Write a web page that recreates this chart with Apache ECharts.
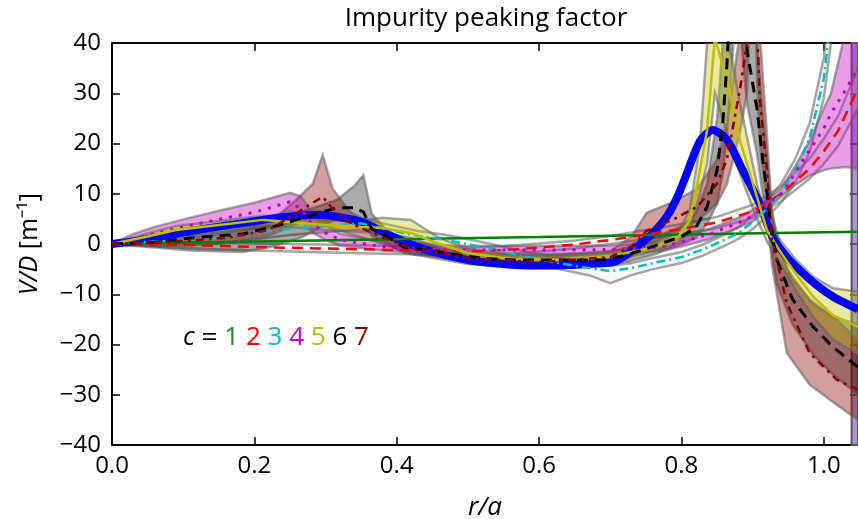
<!DOCTYPE html>
<html>
<head>
<meta charset="utf-8">
<script src="https://cdn.jsdelivr.net/npm/echarts@6/dist/echarts.min.js"></script>
<style>
html,body{margin:0;padding:0;background:#fff;}
#main{width:858px;height:519px;}
</style>
</head>
<body>
<div id="main"></div>
<script>
// ---------- data ----------
const xTicks = [0.0, 0.2, 0.4, 0.6, 0.8, 1.0];
const yTicks = [-40, -30, -20, -10, 0, 10, 20, 30, 40];
const legendDigits = ['1','2','3','4','5','6','7'];

// c = 1 (green)
const x1 = [0, 0.2, 0.4, 0.6, 0.8, 1.0, 1.048];
const y1 = [0, 0.5, 0.95, 1.4, 1.9, 2.35, 2.45];

// c = 2 (red dashed)
const x2 = [0,0.1,0.2,0.3,0.4,0.5,0.55,0.6,0.65,0.7,0.75,0.8,0.85,0.9,0.94,0.98,1.0,1.02,1.048];
const y2 = [0,-0.2,-0.6,-0.9,-1.2,-1.5,-1.2,-0.7,-0.1,0.8,1.9,3.0,4.3,6.5,10,15,18.5,22.5,31];
const lo2 = [0,-0.8,-1.3,-1.7,-2.0,-2.3,-2.0,-1.5,-0.9,0,1.0,2.0,3.2,5.2,8.5,13,16,19.5,27];
const hi2 = [0,0.4,0.1,-0.1,-0.4,-0.7,-0.4,0.1,0.7,1.6,2.8,4.0,5.4,7.8,11.5,17,21,25.5,35];

// c = 3 (cyan dash-dot)
const x3 = [0,0.05,0.1,0.15,0.2,0.25,0.3,0.35,0.39,0.43,0.47,0.52,0.57,0.62,0.67,0.7,0.73,0.76,0.8,0.83,0.86,0.88,0.9,0.92,0.94,0.96,0.98,1.0,1.01,1.02];
const y3 = [0,0.4,0.8,1.3,2.2,3.1,3.6,4.1,2.8,1.6,0.8,-0.6,-2.2,-3.6,-4.8,-5.4,-4.8,-3.8,-2.6,-1.1,0.8,2.2,4.4,7,10,14.5,21,33,45,65];
const lo3 = [0,-0.4,-0.3,0,0.9,1.8,2.4,2.9,1.6,0.4,-0.4,-1.8,-3.4,-4.8,-6.2,-7.8,-6.2,-5.0,-3.8,-2.3,-0.4,1.0,3.0,5.4,8.2,12.3,18.3,29,40,58];
const hi3 = [0,1.4,1.8,2.3,3.2,4.1,4.6,5.1,3.8,2.6,1.8,0.4,-1.2,-2.6,-3.8,-4.4,-3.8,-2.8,-1.6,-0.1,1.8,3.3,5.7,8.6,12,17,24,37,52,75];

// c = 4 (magenta dotted)
const x4 = [0,0.03,0.06,0.1,0.15,0.2,0.25,0.265,0.28,0.3,0.32,0.35,0.38,0.42,0.5,0.6,0.7,0.77,0.8,0.84,0.88,0.9,0.94,0.96,0.98,1.0,1.01,1.03,1.048];
const y4 = [0,1.1,2.1,3.4,4.9,6.3,8.4,7.0,4.2,2.2,0.9,0.1,-0.5,-0.9,-1.2,-1.2,-1.1,-0.6,0.4,2.0,4.2,5.6,10,14.2,18.7,23,26,30.5,35];
const lo4 = [0,0.2,1.0,2.0,3.3,4.6,6.6,5.0,2.4,0.8,-0.3,-0.8,-1.3,-1.7,-2.0,-2.0,-1.9,-1.4,-0.5,1.0,3.3,4.5,9.4,11.8,13.6,14.7,15,15.3,15];
const hi4 = [0,2.0,3.4,4.9,6.6,8.2,10.2,9.5,6.5,3.7,2.1,1.2,0.4,0,-0.4,-0.4,-0.3,0.3,1.3,3.0,5.2,6.8,11,15.5,20.5,27,30,42,55];

// c = 5 (yellow solid)
const x5 = [0,0.05,0.09,0.138,0.212,0.25,0.3,0.35,0.38,0.42,0.46,0.5,0.56,0.63,0.7,0.75,0.78,0.797,0.812,0.826,0.836,0.847,0.864,0.882,0.906,0.92,0.94,0.96,0.985,1.013,1.048];
const y5 = [0,1.5,2.8,3.6,4.8,4.4,3.8,3.4,3.2,2.2,0,-1.8,-3.0,-3.2,-2.4,-1.0,0.3,1.6,4.8,14.7,22.7,41,32.6,20.7,9.4,2.8,-1.8,-5.8,-10.5,-14.2,-16.5];
const lo5 = [0,0.9,2.0,2.8,3.8,3.4,2.8,2.4,2.2,1.2,-0.8,-2.6,-3.8,-4.0,-3.2,-1.8,-0.6,0.4,3.0,10,16,30,22,14,5,0.5,-4,-9,-14.5,-19,-22];
const hi5 = [0,2.1,3.6,4.4,5.6,5.4,4.8,4.6,5.2,4.8,1.2,-1.0,-2.2,-2.4,-1.6,-0.2,1.2,2.6,7,20,40,55,42,28,12,4.5,0.5,-3,-6.5,-8.8,-9.5];

// c = 6 (black dashed)
const x6 = [0,0.067,0.11,0.184,0.226,0.268,0.316,0.34,0.353,0.365,0.383,0.41,0.47,0.517,0.563,0.64,0.686,0.723,0.76,0.8,0.82,0.836,0.85,0.858,0.864,0.878,0.892,0.906,0.914,0.921,0.926,0.934,0.956,0.985,1.013,1.048];
const y6 = [0,0.4,1.2,2.0,3.4,5.2,7.2,7.2,6.4,3.0,1.8,-0.6,-1.8,-2.8,-3.2,-3.2,-3.2,-2.2,-0.5,1.5,3.2,7.4,14.7,24,36,80,38.6,27,17,9.4,2.8,-3.2,-11,-16.5,-20.5,-24.5];
const lo6 = [0,-0.8,-1.3,-1.6,-0.5,1.4,5.0,5.5,4.5,1.6,0.4,-1.8,-2.8,-3.8,-4.2,-4.2,-4.4,-3.6,-2.2,0,1.2,4,8,14,22,50,28,18,10,4,-1,-8,-16,-22,-26,-30];
const hi6 = [0,1.2,2.2,3.2,4.6,6.5,8.8,11.5,13.7,6.0,3.2,0.6,-0.8,-1.8,-2.2,-2.2,-2.0,-0.8,1.2,3.5,6,12,25,40,60,90,60,40,26,16,8,0,-7,-12,-14.5,-16];

// c = 7 (dark red dash-dot)
const x7 = [0,0.08,0.16,0.22,0.26,0.282,0.296,0.31,0.334,0.372,0.42,0.5,0.6,0.7,0.73,0.751,0.79,0.822,0.85,0.864,0.882,0.892,0.9,0.907,0.91,0.92,0.927,0.948,0.98,1.018,1.048];
const y7 = [0,0.4,1.2,2.8,6.2,8.2,9.4,7.0,4.2,1.8,-0.8,-2.8,-3.6,-2.6,-0.5,2.6,5,7.4,12,17,30.6,40,80,40,29,14.7,1,-11.7,-21.7,-27,-29];
const lo7 = [0,-0.2,0.2,1.6,4,5.5,4,3.2,2,0.4,-2,-4,-4.8,-4,-2.5,-0.5,2.5,4.5,8,12,22,30,60,30,20,8,-4,-21.7,-28,-32,-35];
const hi7 = [0,1.0,2.2,4.0,9,12,17.7,11,6.5,3.2,0.4,-1.6,-2.4,-1.4,1.5,6.2,8.5,11,17,24,42,60,90,60,42,22,6,-5,-11,-15,-19];

// thick blue line
const xB = [0,0.044,0.09,0.138,0.19,0.232,0.288,0.35,0.395,0.442,0.5,0.55,0.59,0.64,0.704,0.72,0.742,0.76,0.78,0.795,0.808,0.826,0.844,0.864,0.886,0.91,0.928,0.948,0.966,0.99,1.013,1.041,1.048];
const yB = [0,0.8,2.0,3.2,4.3,5.2,5.8,4.4,1.4,-1.2,-3.2,-4.0,-4.3,-4.2,-3.6,-2.4,0.0,2.2,5.6,9.6,14.2,20.5,22.7,20.7,14.7,8,1.4,-2.6,-5.2,-8.2,-10.5,-12.5,-13];

// shaded region at the edge
const edgeSpan = [1.039, 1.06];

// ---------- build ----------
const FONT = 'Open Sans';
const pairs = (xs, ys) => xs.map((x, i) => [x, ys[i]]);
const EDGE = 'rgba(95,95,95,0.55)';

function band(xs, lo, hi, fill) {
  return {
    type: 'custom', silent: true, clip: true, z: 2,
    data: xs.map((x, i) => [x, lo[i], hi[i]]),
    encode: { x: 0, y: [1, 2] },
    renderItem: function (params, api) {
      if (params.dataIndex !== 0) return null;
      const up = [], dn = [];
      for (let i = 0; i < xs.length; i++) {
        up.push(api.coord([xs[i], hi[i]]));
        dn.push(api.coord([xs[i], lo[i]]));
      }
      const poly = up.concat(dn.slice().reverse());
      return {
        type: 'group',
        children: [
          { type: 'polygon', shape: { points: poly }, style: { fill: fill, stroke: null } },
          { type: 'polyline', shape: { points: up }, style: { fill: null, stroke: EDGE, lineWidth: 2.5 } },
          { type: 'polyline', shape: { points: dn }, style: { fill: null, stroke: EDGE, lineWidth: 2.5 } }
        ]
      };
    }
  };
}
function line(xs, ys, color, width, type, z, smooth) {
  return { type: 'line', data: pairs(xs, ys), showSymbol: false, silent: true, z: z,
    smooth: smooth || 0,
    lineStyle: { color: color, width: width, type: type, cap: 'butt' } };
}

const series = [
  band(x2, lo2, hi2, 'rgba(225,225,225,0.25)'),
  band(x3, lo3, hi3, 'rgba(225,225,225,0.25)'),
  band(x6, lo6, hi6, 'rgba(0,0,0,0.33)'),
  band(x7, lo7, hi7, 'rgba(139,0,0,0.38)'),
  band(x4, lo4, hi4, 'rgba(191,0,191,0.38)'),
  band(x5, lo5, hi5, 'rgba(191,191,0,0.35)'),
  line(xB, yB, '#0000ff', 8, 'solid', 5, 0.25),
  line(x1, y1, '#007f00', 2.5, 'solid', 6),
  line(x2, y2, '#ff0000', 2.5, [11, 7], 6),
  line(x3, y3, '#00bfbf', 2.5, [9, 4, 2, 4], 6),
  line(x4, y4, '#bf00bf', 3, [3, 7], 6),
  line(x5, y5, '#bfbf00', 2.5, 'solid', 6),
  line(x6, y6, '#000000', 3, [11, 7], 6),
  line(x7, y7, '#8b0000', 2.5, [8, 5, 3, 5], 6),
  { type: 'line', data: [], silent: true, z: 8,
    markArea: { silent: true,
      itemStyle: { color: 'rgba(120,70,200,0.6)', borderColor: '#555', borderWidth: 2 },
      data: [[{ xAxis: edgeSpan[0] }, { xAxis: edgeSpan[1] }]] } }
];

const fmtX = v => xTicks.some(t => Math.abs(t - v) < 1e-9) ? v.toFixed(1) : '';
const fmtY = v => yTicks.indexOf(v) >= 0 ? String(v).replace('-', '\u2212') : '';

const axisLine = { show: true, onZero: false, lineStyle: { color: '#000', width: 2 } };
const tick = { show: true, inside: true, length: 8, lineStyle: { color: '#000', width: 1.5 } };

const option = {
  animation: false,
  backgroundColor: '#fff',
  grid: { left: 112, right: 0, top: 43, bottom: 74, containLabel: false, outerBoundsMode: 'none' },
  xAxis: [
    { type: 'value', min: 0, max: 1.048, interval: 0.2, position: 'bottom',
      axisLine: axisLine, axisTick: tick, splitLine: { show: false },
      axisLabel: { formatter: fmtX, fontFamily: FONT, fontSize: 24, color: '#000', margin: 9, showMaxLabel: false },
      name: 'r/a', nameLocation: 'middle', nameGap: 50,
      nameTextStyle: { fontFamily: FONT, fontSize: 26, fontStyle: 'italic', color: '#000' } },
    { type: 'value', min: 0, max: 1.048, interval: 0.2, position: 'top',
      axisLine: axisLine, axisTick: tick, splitLine: { show: false }, axisLabel: { show: false } }
  ],
  yAxis: [
    { type: 'value', min: -40, max: 40, interval: 10, position: 'left',
      axisLine: axisLine, axisTick: tick, splitLine: { show: false },
      axisLabel: { formatter: fmtY, fontFamily: FONT, fontSize: 24, color: '#000', margin: 11 },
      name: '{i|V/D} [m\u207B\u00B9]', nameLocation: 'middle', nameGap: 70, nameRotate: 90,
      nameTextStyle: { fontFamily: FONT, fontSize: 25, color: '#000',
        rich: { i: { fontFamily: FONT, fontSize: 25, fontStyle: 'italic', color: '#000' } } } },
    { type: 'value', min: -40, max: 40, interval: 10, position: 'right',
      axisLine: axisLine, axisTick: tick, splitLine: { show: false }, axisLabel: { show: false } }
  ],
  graphic: [
    { type: 'text', z: 20,
      style: { text: 'Impurity peaking factor', x: 486, y: 19, align: 'center', verticalAlign: 'middle',
        fontFamily: FONT, fontSize: 26, fill: '#000' } },
    { type: 'text', z: 20,
      style: { x: 183, y: 338, verticalAlign: 'middle',
        text: '{c|c} {e|=} {d1|' + legendDigits[0] + '} {d2|' + legendDigits[1] + '} {d3|' + legendDigits[2] +
              '} {d4|' + legendDigits[3] + '} {d5|' + legendDigits[4] + '} {d6|' + legendDigits[5] + '} {d7|' + legendDigits[6] + '}',
        fontFamily: FONT, fontSize: 26, fill: '#000',
        rich: {
          c: { fontStyle: 'italic', fontFamily: FONT, fontSize: 26, fill: '#000' },
          e: { fontFamily: FONT, fontSize: 28, fill: '#000' },
          d1: { fill: '#1a8a1a', fontFamily: FONT, fontSize: 26 },
          d2: { fill: '#ff0000', fontFamily: FONT, fontSize: 26 },
          d3: { fill: '#00bfbf', fontFamily: FONT, fontSize: 26 },
          d4: { fill: '#bf00bf', fontFamily: FONT, fontSize: 26 },
          d5: { fill: '#bfbf00', fontFamily: FONT, fontSize: 26 },
          d6: { fill: '#000000', fontFamily: FONT, fontSize: 26 },
          d7: { fill: '#8b0000', fontFamily: FONT, fontSize: 26 }
        } } }
  ],
  series: series
};

const chart = echarts.init(document.getElementById('main'), null, { renderer: 'canvas' });
chart.setOption(option);
</script>
</body>
</html>
